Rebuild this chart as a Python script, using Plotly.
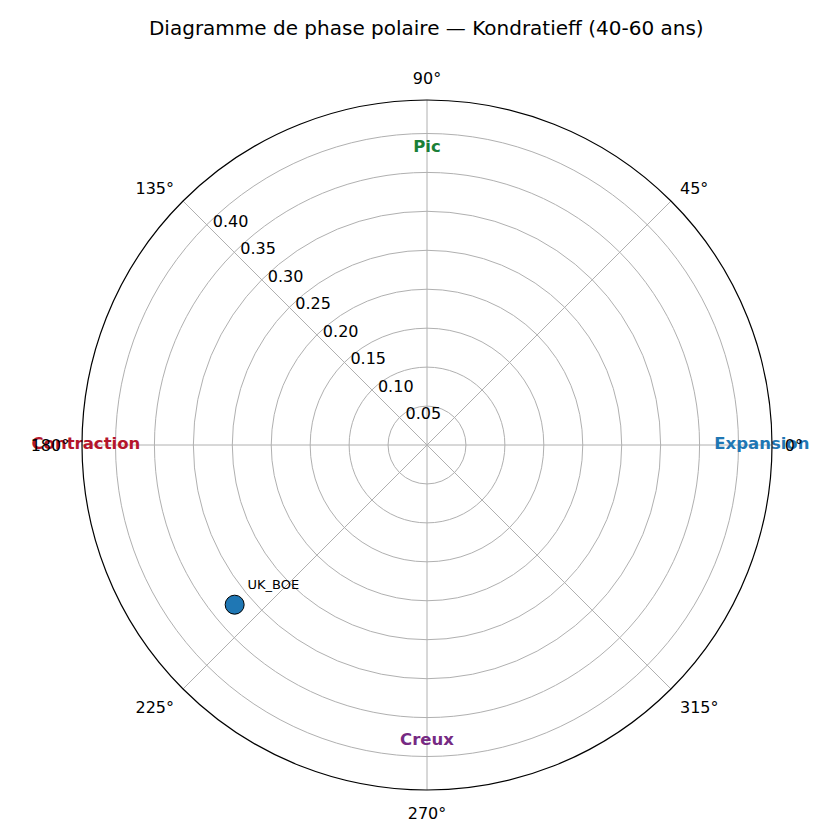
import plotly.graph_objects as go

# data
series = ["UK_BOE"]
amplitude = [0.321]
phase_deg = [219.7]

phase_labels = ["Expansion", "Pic", "Contraction", "Creux"]
phase_angles = [0, 90, 180, 270]
phase_r = [0.43, 0.382, 0.438, 0.38]
phase_colors = ["#1f77b4", "#1a7f37", "#b5152b", "#762a83"]

radial_ticks = [0.05, 0.10, 0.15, 0.20, 0.25, 0.30, 0.35, 0.40]
r_max = 0.443

fig = go.Figure()

fig.add_trace(go.Scatterpolar(
    r=amplitude, theta=phase_deg, mode="markers+text",
    text=series, textposition="top right",
    textfont=dict(size=13, color="black"),
    marker=dict(size=19, color="#1f77b4", line=dict(color="black", width=1)),
    showlegend=False, cliponaxis=False,
))

fig.add_trace(go.Scatterpolar(
    r=phase_r, theta=phase_angles, mode="text",
    text=["<b>%s</b>" % t for t in phase_labels],
    textfont=dict(size=16.5, color=phase_colors),
    showlegend=False, cliponaxis=False,
))

fig.update_layout(
    width=840, height=840,
    margin=dict(l=74, r=76, t=92, b=58),
    paper_bgcolor="white",
    font=dict(family="DejaVu Sans", size=16, color="black"),
    title=dict(text="Diagramme de phase polaire — Kondratieff (40-60 ans)",
               x=0.498, xanchor="center", y=0.976, yanchor="middle",
               font=dict(size=20)),
    polar=dict(
        bgcolor="white",
        domain=dict(x=[0, 1], y=[0, 1]),
        radialaxis=dict(
            range=[0, r_max], tickvals=radial_ticks,
            ticktext=["%.2f" % v for v in radial_ticks],
            angle=135, tickangle=135, showline=False, ticks="",
            gridcolor="#b0b0b0", gridwidth=1,
            tickfont=dict(size=16),
        ),
        angularaxis=dict(
            rotation=0, direction="counterclockwise",
            tickvals=[0, 45, 90, 135, 180, 225, 270, 315],
            ticktext=["0°", "45°", "90°", "135°", "180°", "225°", "270°", "315°"],
            ticks="outside", ticklen=9, tickcolor="rgba(0,0,0,0)",
            showline=True, linecolor="black", linewidth=1.2,
            gridcolor="#b0b0b0", gridwidth=1,
            tickfont=dict(size=16),
        ),
    ),
)

fig.write_html("out.html")
